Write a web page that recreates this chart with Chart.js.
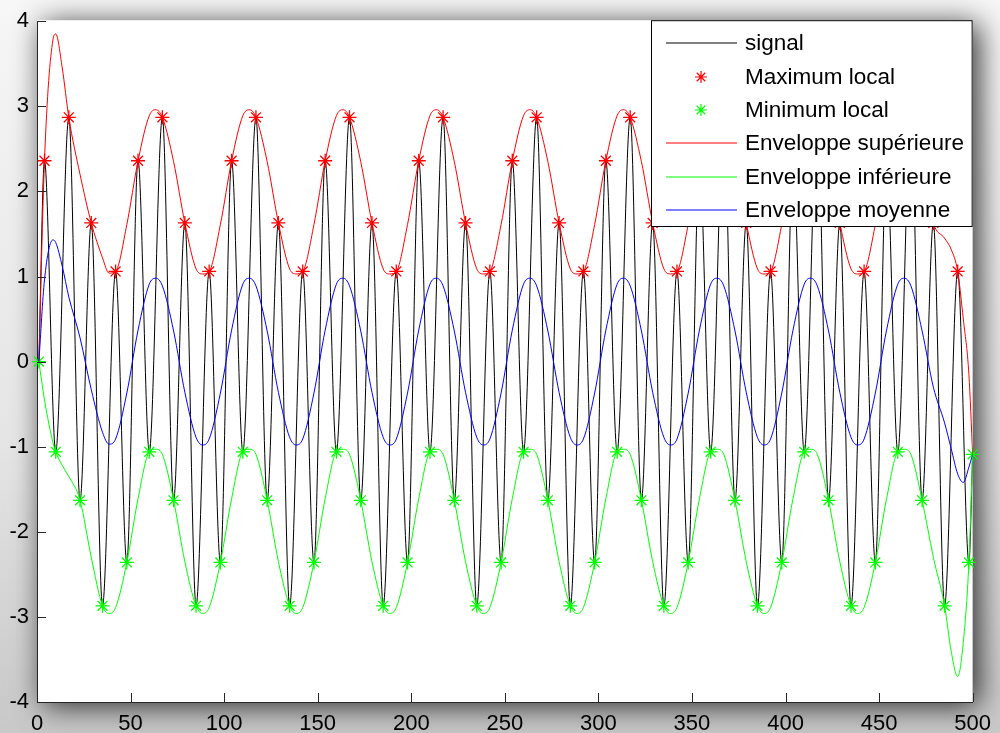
<!DOCTYPE html>
<html>
<head>
<meta charset="utf-8">
<title>Enveloppes</title>
<script src="https://cdn.jsdelivr.net/npm/chart.js@4.4.1/dist/chart.umd.min.js"></script>
<style>
    html, body { margin: 0; padding: 0; background: #f2f2f2; }
    #wrap { width: 1000px; height: 733px; }
</style>
</head>
<body>
<div id="wrap"><canvas id="graph"></canvas></div>
<script>
// extremums
const maxX = [4, 17, 29, 42, 54, 67, 79, 92, 104, 117, 129, 142, 154, 167, 179, 192, 204, 217, 229, 242,
    254, 267, 279, 292, 304, 317, 329, 342, 354, 367, 379, 392, 404, 417, 429, 442, 454, 467, 479, 492]
const maxY = [2.36, 2.87, 1.63, 1.06, 2.36, 2.87, 1.63, 1.06, 2.36, 2.87, 1.63, 1.06, 2.36, 2.87, 1.63, 1.06,
    2.36, 2.87, 1.63, 1.06, 2.36, 2.87, 1.63, 1.06, 2.36, 2.87, 1.63, 1.06, 2.36, 2.87, 1.63, 1.06,
    2.36, 2.87, 1.63, 1.06, 2.36, 2.87, 1.63, 1.06]
const minX = [1, 10, 23, 35, 48, 60, 73, 85, 98, 110, 123, 135, 148, 160, 173, 185, 198, 210, 223, 235, 248,
    260, 273, 285, 298, 310, 323, 335, 348, 360, 373, 385, 398, 410, 423, 435, 448, 460, 473, 485, 498, 500]
const minY = [0, -1.06, -1.63, -2.87, -2.36, -1.06, -1.63, -2.87, -2.36, -1.06, -1.63, -2.87, -2.36,
    -1.06, -1.63, -2.87, -2.36, -1.06, -1.63, -2.87, -2.36, -1.06, -1.63, -2.87, -2.36,
    -1.06, -1.63, -2.87, -2.36, -1.06, -1.63, -2.87, -2.36, -1.06, -1.63, -2.87, -2.36,
    -1.06, -1.63, -2.87, -2.36, -1.09]

// enveloppes (abscisses communes)
const envX = [1, 4, 8.5, 10, 13.5, 17, 23, 29, 35, 38.5, 42, 48,
    54, 60, 63.5, 67, 73, 79, 85, 88.5, 92, 98,
    104, 110, 113.5, 117, 123, 129, 135, 138.5, 142, 148,
    154, 160, 163.5, 167, 173, 179, 185, 188.5, 192, 198,
    204, 210, 213.5, 217, 223, 229, 235, 238.5, 242, 248,
    254, 260, 263.5, 267, 273, 279, 285, 288.5, 292, 298,
    304, 310, 313.5, 317, 323, 329, 335, 338.5, 342, 348,
    354, 360, 363.5, 367, 373, 379, 385, 388.5, 392, 398,
    404, 410, 413.5, 417, 423, 429, 435, 438.5, 442, 448,
    454, 460, 463.5, 467, 473, 479, 485, 488.5, 492, 495, 498, 500]
const envSup = [0, 2.36, 3.78, 3.85, 3.45, 2.87, 2.2, 1.63, 1.22, 1.04, 1.06, 1.61,
    2.36, 2.89, 2.96, 2.87, 2.35, 1.63, 1.09, 1.03, 1.06, 1.61,
    2.36, 2.89, 2.96, 2.87, 2.35, 1.63, 1.09, 1.03, 1.06, 1.61,
    2.36, 2.89, 2.96, 2.87, 2.35, 1.63, 1.09, 1.03, 1.06, 1.61,
    2.36, 2.89, 2.96, 2.87, 2.35, 1.63, 1.09, 1.03, 1.06, 1.61,
    2.36, 2.89, 2.96, 2.87, 2.35, 1.63, 1.09, 1.03, 1.06, 1.61,
    2.36, 2.89, 2.96, 2.87, 2.35, 1.63, 1.09, 1.03, 1.06, 1.61,
    2.36, 2.89, 2.96, 2.87, 2.35, 1.63, 1.09, 1.03, 1.06, 1.61,
    2.36, 2.89, 2.96, 2.87, 2.35, 1.63, 1.09, 1.03, 1.06, 1.61,
    2.36, 2.89, 2.96, 2.87, 2.35, 1.63, 1.45, 1.32, 1.06, 0.5, -0.15, -1.09]
const envInf = [0, -0.45, -0.95, -1.06, -1.22, -1.35, -1.63, -2.30, -2.87, -2.96, -2.89, -2.36,
    -1.61, -1.06, -1.03, -1.09, -1.63, -2.35, -2.87, -2.96, -2.89, -2.36,
    -1.61, -1.06, -1.03, -1.09, -1.63, -2.35, -2.87, -2.96, -2.89, -2.36,
    -1.61, -1.06, -1.03, -1.09, -1.63, -2.35, -2.87, -2.96, -2.89, -2.36,
    -1.61, -1.06, -1.03, -1.09, -1.63, -2.35, -2.87, -2.96, -2.89, -2.36,
    -1.61, -1.06, -1.03, -1.09, -1.63, -2.35, -2.87, -2.96, -2.89, -2.36,
    -1.61, -1.06, -1.03, -1.09, -1.63, -2.35, -2.87, -2.96, -2.89, -2.36,
    -1.61, -1.06, -1.03, -1.09, -1.63, -2.35, -2.87, -2.96, -2.89, -2.36,
    -1.61, -1.06, -1.03, -1.09, -1.63, -2.35, -2.87, -2.96, -2.89, -2.36,
    -1.61, -1.06, -1.03, -1.09, -1.63, -2.30, -2.87, -3.40, -3.70, -3.30, -2.36, -1.09]
const envMoy = [0, 0.96, 1.43, 1.40, 1.12, 0.76, 0.28, -0.33, -0.83, -0.97, -0.91, -0.37,
    0.37, 0.91, 0.98, 0.89, 0.36, -0.36, -0.89, -0.98, -0.91, -0.37,
    0.37, 0.91, 0.98, 0.89, 0.36, -0.36, -0.89, -0.98, -0.91, -0.37,
    0.37, 0.91, 0.98, 0.89, 0.36, -0.36, -0.89, -0.98, -0.91, -0.37,
    0.37, 0.91, 0.98, 0.89, 0.36, -0.36, -0.89, -0.98, -0.91, -0.37,
    0.37, 0.91, 0.98, 0.89, 0.36, -0.36, -0.89, -0.98, -0.91, -0.37,
    0.37, 0.91, 0.98, 0.89, 0.36, -0.36, -0.89, -0.98, -0.91, -0.37,
    0.37, 0.91, 0.98, 0.89, 0.36, -0.36, -0.89, -0.98, -0.91, -0.37,
    0.37, 0.91, 0.98, 0.89, 0.36, -0.36, -0.89, -0.98, -0.91, -0.37,
    0.37, 0.91, 0.98, 0.89, 0.36, -0.30, -0.72, -1.02, -1.32, -1.42, -1.24, -1.09]

const xTicks = [0, 50, 100, 150, 200, 250, 300, 350, 400, 450, 500]
const yTicks = [-4, -3, -2, -1, 0, 1, 2, 3, 4]

const pts = (xs, ys) => xs.map((x, i) => ({x: x, y: ys[i]}))
// le signal passe par ses extremums successifs
const signal = pts(maxX, maxY).concat(pts(minX, minY)).sort((a, b) => a.x - b.x)

Chart.defaults.font.family = "'Liberation Sans', Arial, sans-serif"
Chart.defaults.font.size = 22
Chart.defaults.color = '#000'

const fond = {
    id: 'fond',
    beforeDraw(chart) {
        const ctx = chart.ctx, ca = chart.chartArea
        ctx.save()
        const g = ctx.createLinearGradient(0, 0, 0, chart.height)
        g.addColorStop(0, '#f7f7f7')
        g.addColorStop(0.6, '#e6e6e6')
        g.addColorStop(1, '#c8c8c8')
        ctx.fillStyle = g
        ctx.fillRect(0, 0, chart.width, chart.height)
        ctx.shadowColor = 'rgba(0,0,0,0.8)'
        ctx.shadowBlur = 28
        ctx.shadowOffsetX = 6
        ctx.shadowOffsetY = 4
        ctx.fillStyle = '#fff'
        ctx.fillRect(ca.left, ca.top - 1, ca.right - ca.left, ca.bottom - ca.top + 1)
        ctx.restore()
    }
}

// graduations vers l'interieur, comme matlab
const graduations = {
    id: 'graduations',
    afterDatasetsDraw(chart) {
        const ctx = chart.ctx, ca = chart.chartArea
        const sx = chart.scales.x, sy = chart.scales.y
        ctx.save()
        ctx.strokeStyle = '#262626'
        ctx.lineWidth = 1
        ctx.beginPath()
        xTicks.forEach(v => {
            const p = Math.round(sx.getPixelForValue(v)) + 0.5
            ctx.moveTo(p, ca.bottom)
            ctx.lineTo(p, ca.bottom - 9)
        })
        yTicks.forEach(v => {
            const p = Math.round(sy.getPixelForValue(v)) + 0.5
            ctx.moveTo(ca.left, p)
            ctx.lineTo(ca.left + 9, p)
        })
        ctx.stroke()
        ctx.restore()
    }
}

function etoile(ctx, x, y, r, color) {
    const d = r * Math.SQRT1_2
    ctx.strokeStyle = color
    ctx.lineWidth = 1.2
    ctx.beginPath()
    ctx.moveTo(x - r, y); ctx.lineTo(x + r, y)
    ctx.moveTo(x, y - r); ctx.lineTo(x, y + r)
    ctx.moveTo(x - d, y - d); ctx.lineTo(x + d, y + d)
    ctx.moveTo(x - d, y + d); ctx.lineTo(x + d, y - d)
    ctx.stroke()
}

const couleurs = ['#000000', '#ff0000', '#00ff00', '#ff0000', '#00ff00', '#0000ff']

const legende = {
    id: 'legende',
    afterDraw(chart) {
        const ctx = chart.ctx, ca = chart.chartArea
        const left = 651, top = ca.top - 1, right = ca.right, bottom = 227
        ctx.save()
        ctx.fillStyle = '#fff'
        ctx.fillRect(left, top, right - left, bottom - top)
        ctx.strokeStyle = '#000'
        ctx.lineWidth = 1
        ctx.strokeRect(left + 0.5, top + 0.5, right - left - 1, bottom - top - 1)
        ctx.font = "22.5px 'Liberation Sans', Arial, sans-serif"
        ctx.textBaseline = 'middle'
        chart.data.datasets.forEach((ds, i) => {
            const y = Math.round(top + 23 + i * 33.4)
            if (ds.showLine === false) {
                etoile(ctx, 701, y, 6, couleurs[i])
            } else {
                ctx.strokeStyle = couleurs[i]
                ctx.lineWidth = 1.2
                ctx.beginPath()
                ctx.moveTo(666, y)
                ctx.lineTo(737, y)
                ctx.stroke()
            }
            ctx.fillStyle = '#000'
            ctx.fillText(ds.label, 745, y + 1)
        })
        ctx.restore()
    }
}

const courbe = {pointRadius: 0, borderWidth: 1, cubicInterpolationMode: 'monotone', fill: false}
const marque = {showLine: false, pointStyle: 'star', pointRadius: 7, pointBorderWidth: 1.3, clip: 10}

const config = {
    type: 'line',
    data: {
        datasets: [
            Object.assign({label: 'signal', data: signal, borderColor: couleurs[0], order: 6}, courbe),
            Object.assign({label: 'Maximum local', data: pts(maxX, maxY), borderColor: couleurs[1], order: 5}, marque),
            Object.assign({label: 'Minimum local', data: pts(minX, minY), borderColor: couleurs[2], order: 4}, marque),
            Object.assign({label: 'Enveloppe supérieure', data: pts(envX, envSup), borderColor: couleurs[3], order: 3}, courbe),
            Object.assign({label: 'Enveloppe inférieure', data: pts(envX, envInf), borderColor: couleurs[4], order: 2}, courbe),
            Object.assign({label: 'Enveloppe moyenne', data: pts(envX, envMoy), borderColor: couleurs[5], order: 1}, courbe)
        ]
    },
    options: {
        responsive: true,
        maintainAspectRatio: false,
        animation: false,
        layout: {padding: {top: 19, right: 25, left: 0, bottom: 0}},
        plugins: {
            legend: {display: false},
            tooltip: {enabled: false}
        },
        scales: {
            x: {
                type: 'linear',
                min: 0,
                max: 500,
                afterBuildTicks: s => { s.ticks = xTicks.map(v => ({value: v})) },
                afterFit: s => { s.height = 31 },
                grid: {display: false, drawTicks: false},
                border: {display: true, color: '#262626', width: 1},
                ticks: {padding: 9, maxRotation: 0, autoSkip: false}
            },
            y: {
                type: 'linear',
                min: -4,
                max: 4,
                afterBuildTicks: s => { s.ticks = yTicks.map(v => ({value: v})) },
                afterFit: s => { s.width = 37 },
                grid: {display: false, drawTicks: false},
                border: {display: true, color: '#262626', width: 1},
                ticks: {padding: 8, autoSkip: false}
            }
        }
    },
    plugins: [fond, graduations, legende]
}

const myChart = new Chart(document.querySelector('#graph'), config)
</script>
</body>
</html>
